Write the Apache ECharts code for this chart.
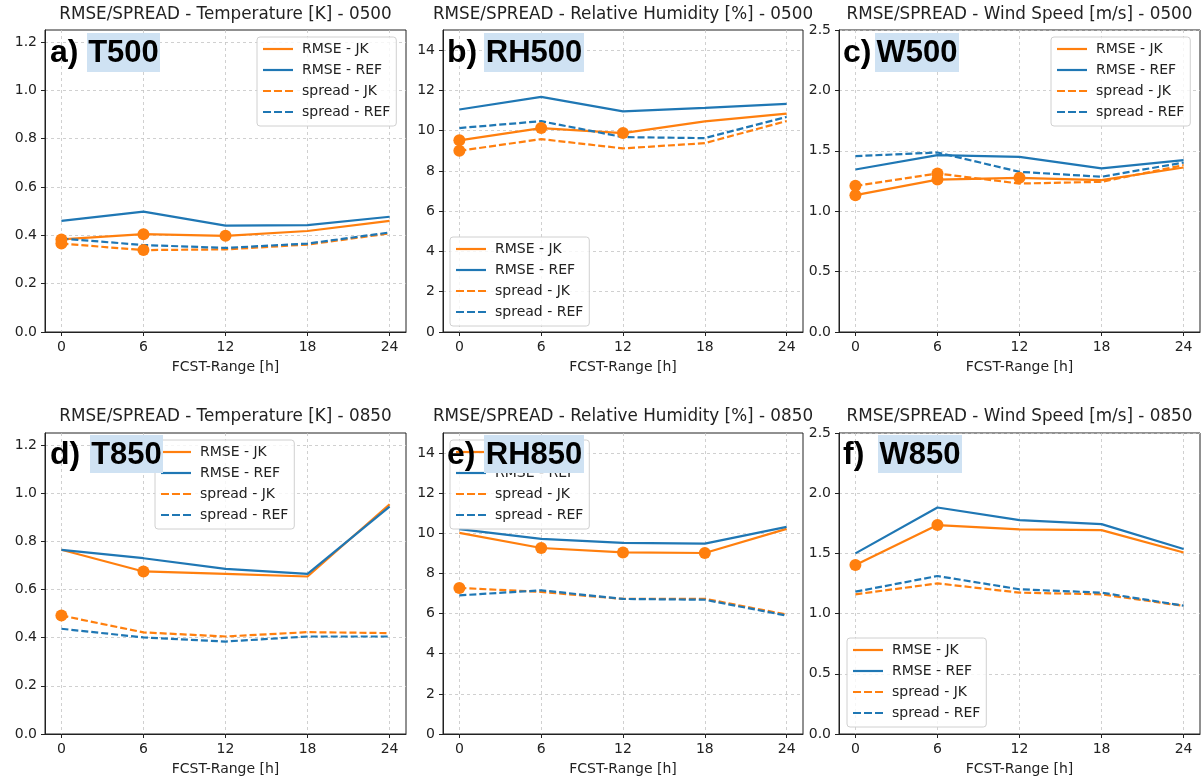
<!DOCTYPE html>
<html>
<head>
<meta charset="utf-8">
<script src="https://cdn.jsdelivr.net/npm/echarts@6/dist/echarts.min.js"></script>
<style>
html,body{margin:0;padding:0;background:#fff;}
#chart{width:1201px;height:779px;}
</style>
</head>
<body>
<div id="chart"></div>
<script>
// ---------------- DATA ----------------
const hours = [0, 6, 12, 18, 24];
const xTicks = [0, 6, 12, 18, 24];
const seriesNames = ['RMSE - JK', 'RMSE - REF', 'spread - JK', 'spread - REF'];
const titles = [
  'RMSE/SPREAD - Temperature [K] - 0500',
  'RMSE/SPREAD - Relative Humidity [%] - 0500',
  'RMSE/SPREAD - Wind Speed [m/s] - 0500',
  'RMSE/SPREAD - Temperature [K] - 0850',
  'RMSE/SPREAD - Relative Humidity [%] - 0850',
  'RMSE/SPREAD - Wind Speed [m/s] - 0850'
];
const panelLetters = ['a)', 'b)', 'c)', 'd)', 'e)', 'f)'];
const panelTags = ['T500', 'RH500', 'W500', 'T850', 'RH850', 'W850'];
const xAxisTitle = 'FCST-Range [h]';

const yTicksT = [0, 0.2, 0.4, 0.6, 0.8, 1.0, 1.2];
const yLabelsT = ['0.0', '0.2', '0.4', '0.6', '0.8', '1.0', '1.2'];
const yTicksRH = [0, 2, 4, 6, 8, 10, 12, 14];
const yLabelsRH = ['0', '2', '4', '6', '8', '10', '12', '14'];
const yTicksW = [0, 0.5, 1.0, 1.5, 2.0, 2.5];
const yLabelsW = ['0.0', '0.5', '1.0', '1.5', '2.0', '2.5'];
const yMaxT = 1.25, yMaxRH = 15, yMaxW = 2.5;

// T500
const t500RmseJK    = [0.383, 0.405, 0.398, 0.418, 0.460];
const t500RmseREF   = [0.460, 0.498, 0.440, 0.442, 0.477];
const t500SpreadJK  = [0.366, 0.339, 0.342, 0.362, 0.408];
const t500SpreadREF = [0.387, 0.360, 0.348, 0.366, 0.412];
const t500MarkRmse   = [1, 1, 1, 0, 0];
const t500MarkSpread = [1, 1, 0, 0, 0];
// RH500
const rh500RmseJK    = [9.52, 10.13, 9.88, 10.46, 10.85];
const rh500RmseREF   = [11.05, 11.68, 10.96, 11.13, 11.33];
const rh500SpreadJK  = [9.00, 9.58, 9.12, 9.38, 10.48];
const rh500SpreadREF = [10.13, 10.47, 9.68, 9.63, 10.68];
const rh500MarkRmse   = [1, 1, 1, 0, 0];
const rh500MarkSpread = [1, 0, 0, 0, 0];
// W500
const w500RmseJK    = [1.133, 1.262, 1.276, 1.257, 1.362];
const w500RmseREF   = [1.345, 1.464, 1.450, 1.354, 1.423];
const w500SpreadJK  = [1.210, 1.312, 1.229, 1.243, 1.381];
const w500SpreadREF = [1.456, 1.486, 1.326, 1.285, 1.403];
const w500MarkRmse   = [1, 1, 1, 0, 0];
const w500MarkSpread = [1, 1, 0, 0, 0];
// T850
const t850RmseJK    = [0.765, 0.675, 0.665, 0.654, 0.954];
const t850RmseREF   = [0.765, 0.730, 0.686, 0.665, 0.944];
const t850SpreadJK  = [0.492, 0.422, 0.405, 0.423, 0.419];
const t850SpreadREF = [0.437, 0.401, 0.384, 0.405, 0.405];
const t850MarkRmse   = [0, 1, 0, 0, 0];
const t850MarkSpread = [1, 0, 0, 0, 0];
// RH850
const rh850RmseJK    = [10.02, 9.27, 9.05, 9.02, 10.22];
const rh850RmseREF   = [10.21, 9.72, 9.52, 9.49, 10.32];
const rh850SpreadJK  = [7.28, 7.08, 6.73, 6.74, 5.95];
const rh850SpreadREF = [6.91, 7.16, 6.73, 6.69, 5.90];
const rh850MarkRmse   = [0, 1, 1, 1, 0];
const rh850MarkSpread = [1, 0, 0, 0, 0];
// W850
const w850RmseJK    = [1.403, 1.735, 1.699, 1.693, 1.508];
const w850RmseREF   = [1.500, 1.881, 1.776, 1.743, 1.536];
const w850SpreadJK  = [1.160, 1.251, 1.174, 1.160, 1.064];
const w850SpreadREF = [1.182, 1.312, 1.202, 1.174, 1.066];
const w850MarkRmse   = [1, 1, 0, 0, 0];
const w850MarkSpread = [0, 0, 0, 0, 0];

// ---------------- LAYOUT / STYLE ----------------
const ORANGE = '#ff7f0e', BLUE = '#1f77b4';
const panels = [
  {vals:[t500RmseJK,t500RmseREF,t500SpreadJK,t500SpreadREF], marks:[t500MarkRmse,t500MarkSpread], ticks:yTicksT, labels:yLabelsT, max:yMaxT,
   grid:{left:45,top:30,width:361,height:302}, legend:{left:257,top:37}, box:[87,33,73,39]},
  {vals:[rh500RmseJK,rh500RmseREF,rh500SpreadJK,rh500SpreadREF], marks:[rh500MarkRmse,rh500MarkSpread], ticks:yTicksRH, labels:yLabelsRH, max:yMaxRH,
   grid:{left:443,top:30,width:360,height:302}, legend:{left:450,top:237}, box:[484,33,100,39]},
  {vals:[w500RmseJK,w500RmseREF,w500SpreadJK,w500SpreadREF], marks:[w500MarkRmse,w500MarkSpread], ticks:yTicksW, labels:yLabelsW, max:yMaxW,
   grid:{left:839,top:30,width:361,height:302}, legend:{left:1051,top:37}, box:[875,33,84,39]},
  {vals:[t850RmseJK,t850RmseREF,t850SpreadJK,t850SpreadREF], marks:[t850MarkRmse,t850MarkSpread], ticks:yTicksT, labels:yLabelsT, max:yMaxT,
   grid:{left:45,top:433,width:361,height:301}, legend:{left:155,top:440}, box:[90,435,73,38]},
  {vals:[rh850RmseJK,rh850RmseREF,rh850SpreadJK,rh850SpreadREF], marks:[rh850MarkRmse,rh850MarkSpread], ticks:yTicksRH, labels:yLabelsRH, max:yMaxRH,
   grid:{left:443,top:433,width:360,height:301}, legend:{left:450,top:440}, box:[484,435,100,38]},
  {vals:[w850RmseJK,w850RmseREF,w850SpreadJK,w850SpreadREF], marks:[w850MarkRmse,w850MarkSpread], ticks:yTicksW, labels:yLabelsW, max:yMaxW,
   grid:{left:839,top:433,width:361,height:301}, legend:{left:847,top:638}, box:[878,435,84,38]}
];
const letterX = [50, 447, 843, 50, 447, 843];

const FONT = 'DejaVu Sans';
const SOLID_ICON = 'path://M0,0h30v2.2h-30z';
const DASH_ICON = 'path://M0,0h8v2.2h-8zM11,0h8v2.2h-8zM22,0h8v2.2h-8z';
const grids = [], xAxes = [], yAxes = [], series = [], legends = [], titleArr = [], graphics = [];
const styles = [
  {color: ORANGE, type: 'solid', icon: SOLID_ICON},
  {color: BLUE, type: 'solid', icon: SOLID_ICON},
  {color: ORANGE, type: [7, 3], icon: DASH_ICON},
  {color: BLUE, type: [7, 3], icon: DASH_ICON}
];

panels.forEach((p, pi) => {
  grids.push(Object.assign({show: true, borderColor: '#222', borderWidth: 1, backgroundColor: 'transparent'}, p.grid));
  xAxes.push({
    type: 'value', gridIndex: pi, min: -1.2, max: 25.2,
    name: xAxisTitle, nameLocation: 'middle', nameGap: 28,
    nameTextStyle: {fontFamily: FONT, fontSize: 14, color: '#222'},
    axisLine: {show: true, onZero: false, lineStyle: {color: '#222', width: 1}},
    axisTick: {show: true, length: 4, customValues: xTicks, lineStyle: {color: '#222'}},
    axisLabel: {customValues: xTicks, margin: 8, fontFamily: FONT, fontSize: 14, color: '#222'},
    splitLine: {show: true, lineStyle: {color: '#c4c4c4', type: [3, 3], width: 0.8}}
  });
  const ticks = p.ticks, labels = p.labels;
  yAxes.push({
    type: 'value', gridIndex: pi, min: 0, max: p.max,
    axisLine: {show: true, onZero: false, lineStyle: {color: '#222', width: 1}},
    axisTick: {show: true, length: 4, customValues: ticks, lineStyle: {color: '#222'}},
    axisLabel: {customValues: ticks, margin: 8, fontFamily: FONT, fontSize: 14, color: '#222',
      formatter: v => { const k = ticks.findIndex(t => Math.abs(t - v) < 1e-9); return k >= 0 ? labels[k] : ''; }},
    splitLine: {show: true, lineStyle: {color: '#c4c4c4', type: [3, 3], width: 0.8}}
  });
  p.vals.forEach((arr, si) => {
    series.push({
      type: 'line', name: seriesNames[si], xAxisIndex: pi, yAxisIndex: pi,
      data: hours.map((h, i) => [h, arr[i]]),
      symbol: 'none', color: styles[si].color,
      lineStyle: {color: styles[si].color, width: 2.2, type: styles[si].type},
      z: 2, animation: false, silent: true
    });
  });
  // significance markers on JK series
  [0, 2].forEach((si, mi) => {
    const flags = p.marks[mi];
    const data = [];
    hours.forEach((h, i) => { if (flags[i]) data.push([h, p.vals[si][i]]); });
    series.push({
      type: 'scatter', xAxisIndex: pi, yAxisIndex: pi, data: data,
      symbol: 'circle', symbolSize: 12, itemStyle: {color: ORANGE, opacity: 1},
      z: 3, animation: false, silent: true
    });
  });
  legends.push({
    left: p.legend.left, top: p.legend.top, orient: 'vertical',
    data: seriesNames.map((n, si) => ({name: n, icon: styles[si].icon})),
    itemWidth: 30, itemHeight: 14, itemGap: 7,
    padding: [5, 6, 7, 6], backgroundColor: 'rgba(255,255,255,0.8)',
    borderColor: '#d0d0d0', borderWidth: 1, borderRadius: 3,
    textStyle: {fontFamily: FONT, fontSize: 14, color: '#222', padding: [0, 0, 0, 4]},
    selectedMode: false, z: 4
  });
  const cx = p.grid.left + p.grid.width / 2;
  titleArr.push({
    text: titles[pi], left: cx, top: pi < 3 ? 6 : 408, textAlign: 'center', padding: 0,
    textStyle: {fontFamily: FONT, fontSize: 16.8, fontWeight: 'normal', color: '#222'}
  });
  const b = p.box;
  graphics.push({type: 'rect', z: 100, shape: {x: b[0], y: b[1], width: b[2], height: b[3]}, style: {fill: '#cfe2f3'}});
  graphics.push({type: 'text', z: 101, style: {text: panelTags[pi], x: b[0] + b[2] / 2, y: b[1] + b[3] / 2 + 1,
    align: 'center', verticalAlign: 'middle', font: 'bold 31px "Liberation Sans"', fill: '#000'}});
  graphics.push({type: 'text', z: 101, style: {text: panelLetters[pi], x: letterX[pi], y: b[1] + b[3] / 2 + 1,
    align: 'left', verticalAlign: 'middle', font: 'bold 32px "Liberation Sans"', fill: '#000'}});
});

const chart = echarts.init(document.getElementById('chart'), null, {renderer: 'canvas'});
chart.setOption({
  animation: false,
  backgroundColor: '#fff',
  title: titleArr,
  grid: grids,
  xAxis: xAxes,
  yAxis: yAxes,
  legend: legends,
  series: series,
  graphic: {elements: graphics}
});
</script>
</body>
</html>
